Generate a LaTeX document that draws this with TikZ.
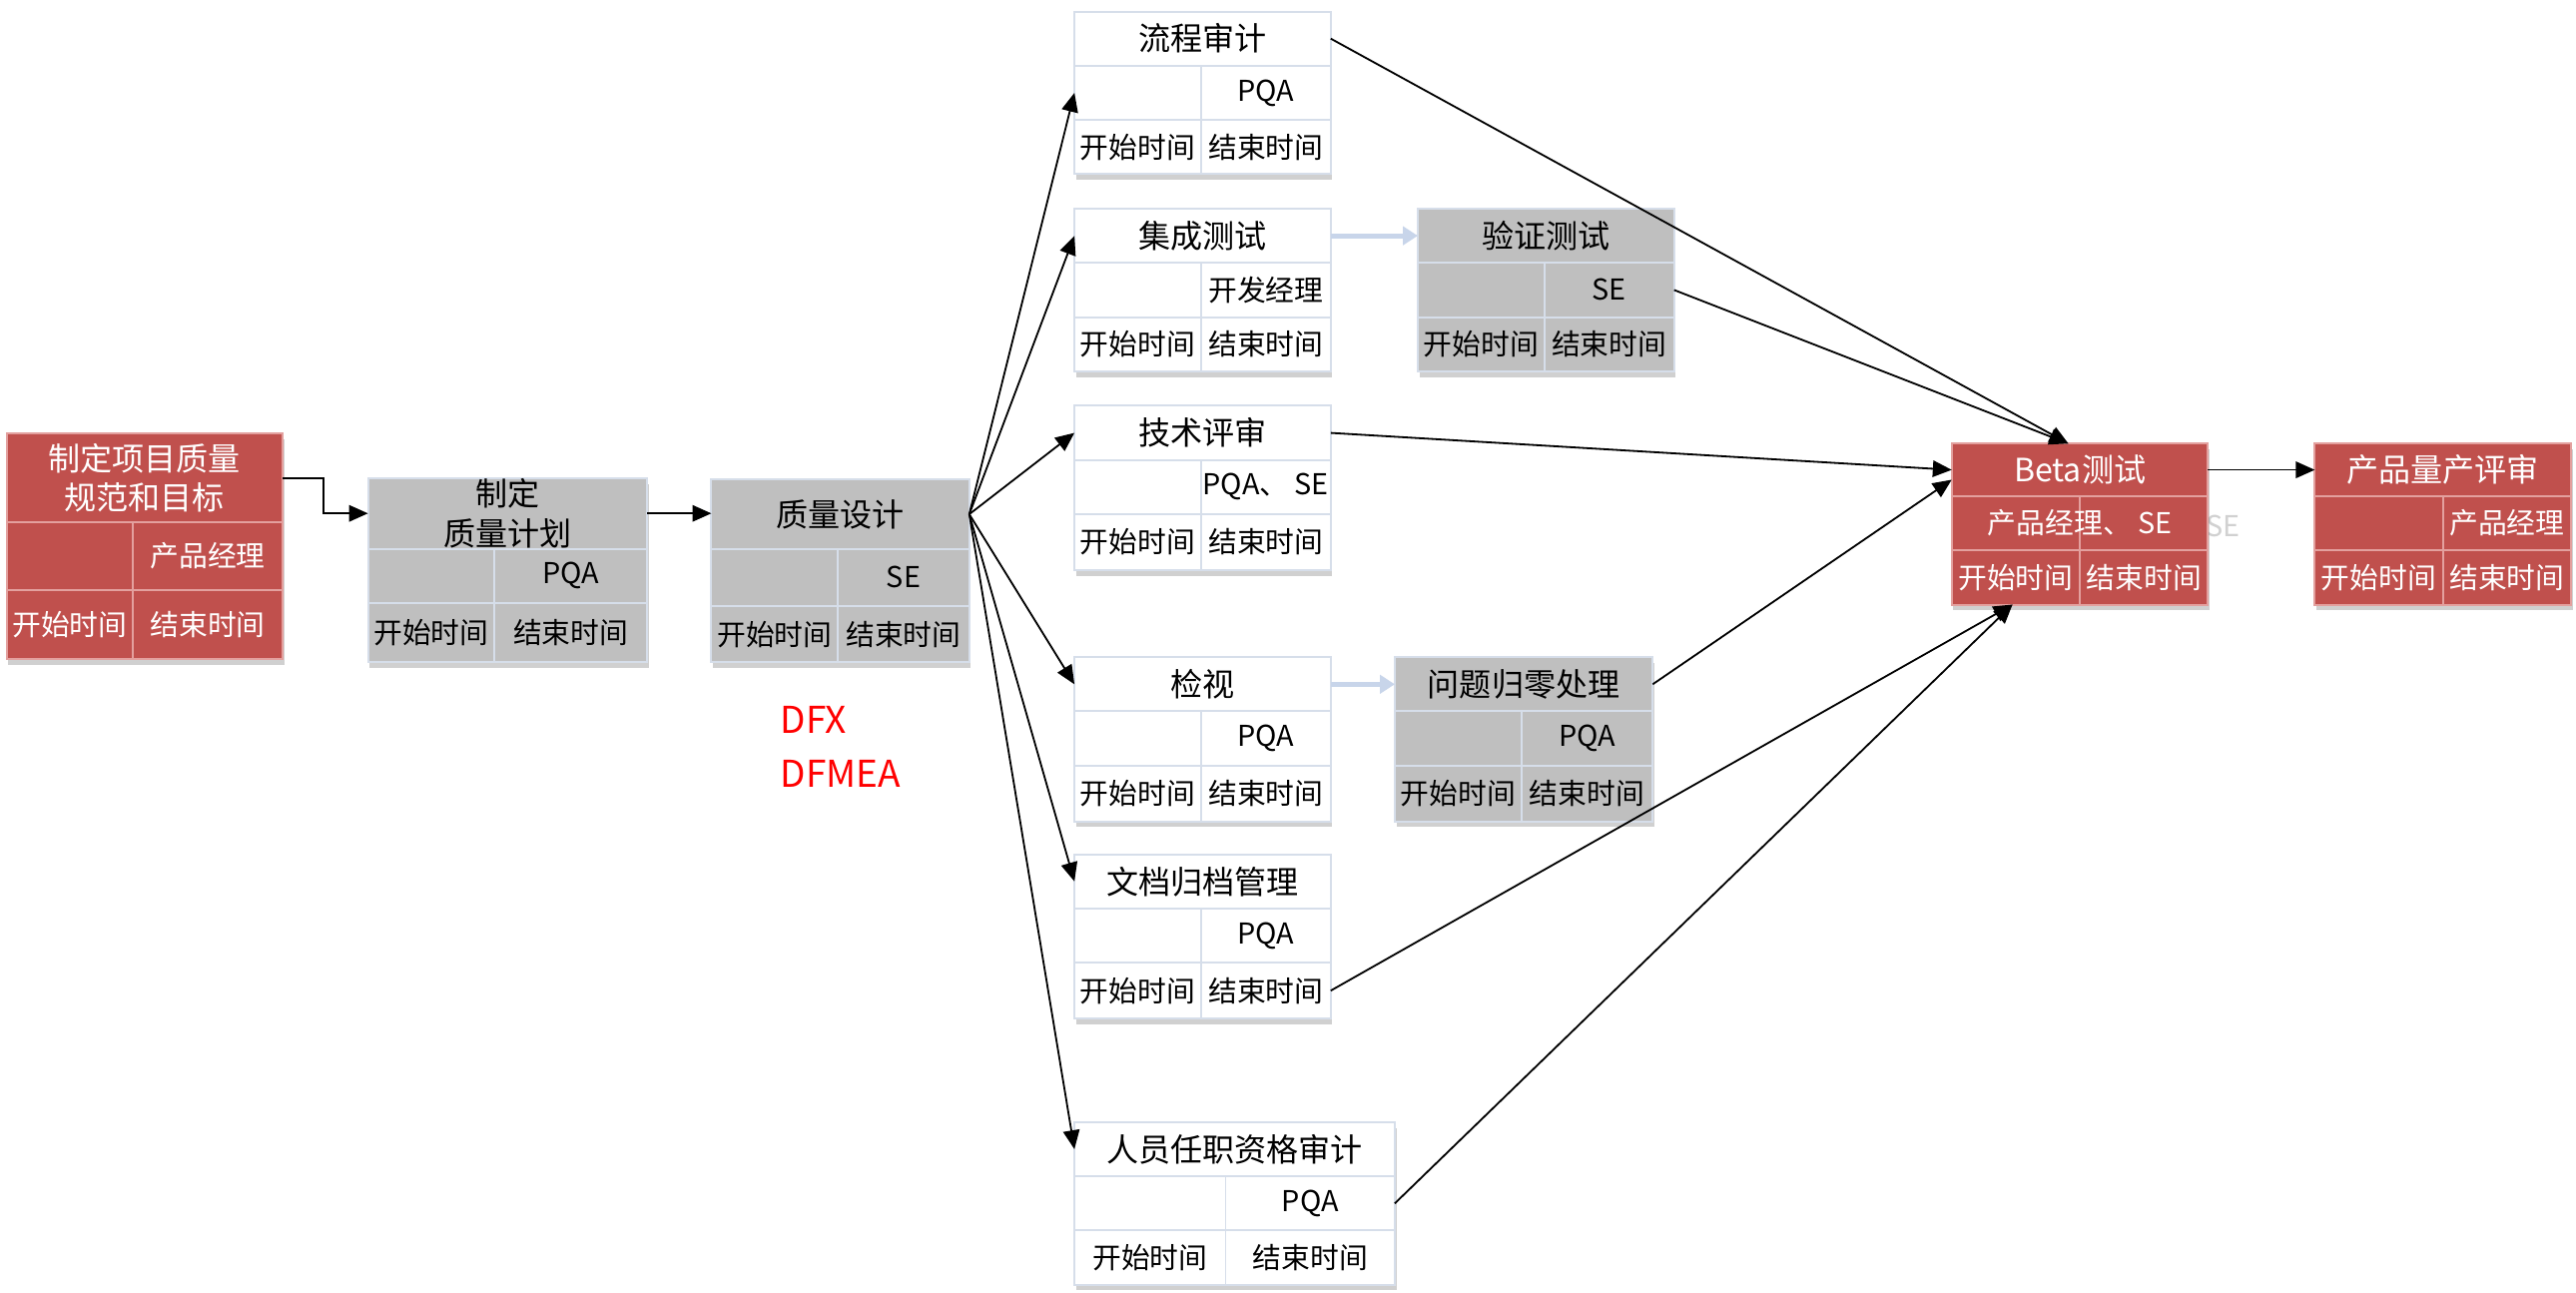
\documentclass[tikz,border=0pt]{standalone}
\usepackage{fontspec}
\setmainfont{Noto Sans CJK SC}
\usetikzlibrary{arrows.meta,shadows,calc}
\definecolor{qred}{HTML}{C0504D}
\definecolor{qredline}{HTML}{E3A09E}
\definecolor{qgray}{HTML}{BFBFBF}
\definecolor{qline}{HTML}{D6DEEA}
\definecolor{qarrow}{HTML}{C8D5EA}
\tikzset{
 boxbase/.style={inner sep=0pt, outer sep=0pt, anchor=north west, line width=1.2pt},
 redbox/.style={fill=qred, draw=qredline, text=white},
 graybox/.style={fill=qgray, draw=qline, text=black},
 whitebox/.style={fill=white, draw=qline, text=black},
 boxshadow/.style={draw=none, drop shadow={shadow xshift=1pt, shadow yshift=-3.5pt, opacity=0.3, fill=black!60}},
 titlefont/.style={font=\fontsize{19.5pt}{24pt}\selectfont},
 cellfont/.style={font=\fontsize{17.5pt}{21pt}\selectfont},
 blk/.style={draw=black, line width=1.1pt, -{Triangle[length=11.5pt,width=10pt]}},
 lightarr/.style={draw=qarrow, line width=3pt, -{Triangle[length=9pt,width=11pt]}},
 note/.style={text=red, font=\fontsize{22.5pt}{27pt}\selectfont, anchor=west, inner sep=0pt},
}
\newcommand\qtext[4]{\def\qT{#1}\def\qA{#2}\def\qB{#3}\def\qR{#4}}
% #1 name #2 style #3 x1 #4 x2 #5 xsplit #6 y1 #7 ya #8 yb #9 y2
\newcommand\qbox[9]{%
 \node[boxbase,#2,boxshadow,minimum width={(#4-#3)*1pt},minimum height={(#9-#6)*1pt}] (#1) at (#3,#6) {};
 \node[boxbase,#2,titlefont,align=center,minimum width={(#4-#3)*1pt},minimum height={(#7-#6)*1pt}] (#1-t) at (#3,#6) {\qT};
 \node[boxbase,#2,cellfont,minimum width={(#5-#3)*1pt},minimum height={(#8-#7)*1pt}] (#1-ra) at (#3,#7) {\qA};
 \node[boxbase,#2,cellfont,minimum width={(#4-#5)*1pt},minimum height={(#8-#7)*1pt}] (#1-rb) at (#5,#7) {\qB};
 \node[boxbase,#2,cellfont,minimum width={(#5-#3)*1pt},minimum height={(#9-#8)*1pt}] (#1-da) at (#3,#8) {开始时间};
 \node[boxbase,#2,cellfont,minimum width={(#4-#5)*1pt},minimum height={(#9-#8)*1pt}] (#1-db) at (#5,#8) {结束时间};
 \node[boxbase,#2,cellfont,fill=none,draw=none,minimum width={(#4-#3)*1pt},minimum height={(#8-#7)*1pt}] (#1-r) at (#3,#7) {\qR};
 \node[boxbase,fill=none,draw=none,minimum width={(#4-#3)*1pt},minimum height={(#9-#8)*1pt}] (#1-d) at (#3,#8) {};
}
\begin{document}
\begin{tikzpicture}[x=1pt,y=-1pt]
\fill[white] (0,0) rectangle (1568,787);
\useasboundingbox (0,0) rectangle (1568,787);

\qtext{制定项目质量\\规范和目标}{}{产品经理}{}
\qbox{A}{redbox}{4}{172}{81}{264}{318}{359}{401}
\qtext{制定\\质量计划}{}{PQA}{}
\qbox{B}{graybox}{224}{394}{301}{291}{334}{367}{403}
\qtext{质量设计}{}{SE}{}
\qbox{C}{graybox}{433}{590}{510}{292}{334}{369}{403}

\qtext{流程审计}{}{PQA}{}
\qbox{lc}{whitebox}{654}{810}{731}{7}{40}{73}{106}
\qtext{集成测试}{}{开发经理}{}
\qbox{jc}{whitebox}{654}{810}{731}{127}{160}{193}{226}
\qtext{技术评审}{}{PQA、 SE}{}
\qbox{js}{whitebox}{654}{810}{731}{247}{280}{313}{347}
\qtext{检视}{}{PQA}{}
\qbox{jsh}{whitebox}{654}{810}{731}{400}{433}{466}{500}
\qtext{文档归档管理}{}{PQA}{}
\qbox{wd}{whitebox}{654}{810}{731}{520}{553}{586}{620}
\qtext{人员任职资格审计}{}{PQA}{}
\qbox{ry}{whitebox}{654}{849}{746}{683}{716}{749}{782}

\qtext{验证测试}{}{SE}{}
\qbox{yz}{graybox}{863}{1019}{940}{127}{160}{193}{226}
\qtext{问题归零处理}{}{PQA}{}
\qbox{wt}{graybox}{849}{1006}{926}{400}{433}{466}{500}

\node[cellfont, text=black!18, inner sep=0pt] (ghost) at (1353,320) {SE};
\qtext{Beta测试}{}{}{产品经理、 SE}
\qbox{bt}{redbox}{1188}{1344}{1266}{270}{302}{335}{368}
\qtext{产品量产评审}{}{产品经理}{}
\qbox{cp}{redbox}{1409}{1565}{1487}{270}{302}{335}{368}

\node[note] (dfx) at (475,438) {DFX};
\node[note] (dfmea) at (475,471) {DFMEA};

% connectors
\draw[blk] (A-t.east) -- ++(25,0) |- (B-t.west);
\draw[blk] (B-t.east) -- (B-t.east -| C-t.west);
\draw[blk] (C-t.east) -- (lc-r.west);
\draw[blk] (C-t.east) -- (jc-t.west);
\draw[blk] (C-t.east) -- (js-t.west);
\draw[blk] (C-t.east) -- (jsh-t.west);
\draw[blk] (C-t.east) -- (wd-t.west);
\draw[blk] (C-t.east) -- (ry-t.west);

\draw[lightarr] (jc-t.east) -- (yz-t.west);
\draw[lightarr] (jsh-t.east) -- (wt-t.west);

\coordinate (bintop) at ($(bt-t.north)+(-7,0)$);
\coordinate (binlow) at ($(bt-t.west)+(0,6)$);
\coordinate (binbot) at ($(bt-d.south)+(-41,0)$);
\draw[blk] (lc-t.east) -- (bintop);
\draw[blk] (yz-r.east) -- (bintop);
\draw[blk] (js-t.east) -- (bt-t.west);
\draw[blk] (wt-t.east) -- (binlow);
\draw[blk] (wd-d.east) -- (binbot);
\draw[blk] (ry-r.east) -- (binbot);
\draw[blk] (bt-t.east) -- (cp-t.west);
\end{tikzpicture}
\end{document}
